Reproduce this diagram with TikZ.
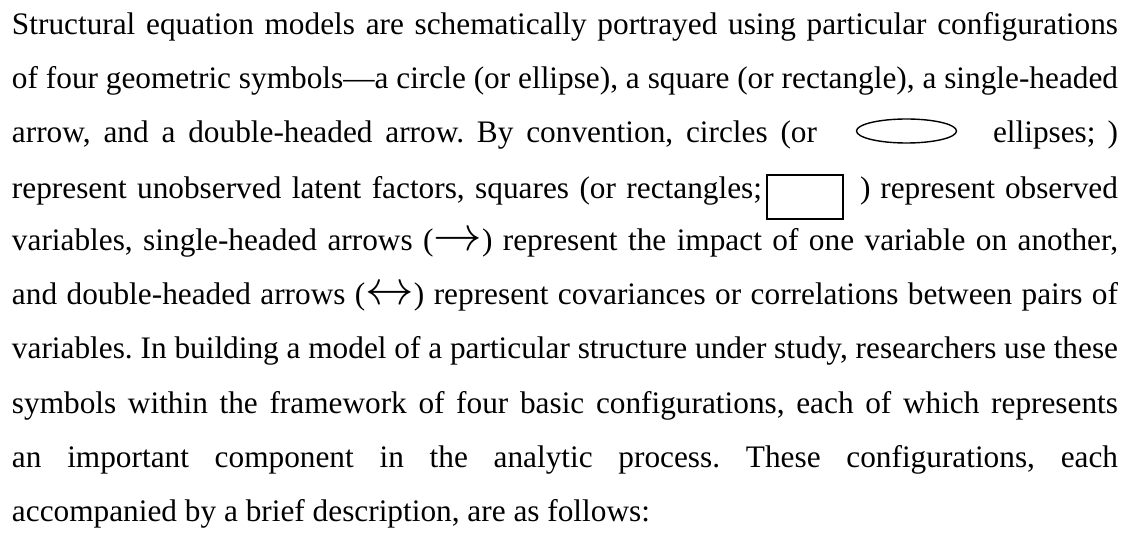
\documentclass[tikz,border=0pt]{standalone}
\usepackage{fontspec}
\setmainfont{Liberation Serif}
\usetikzlibrary{shapes.geometric}
% stretch the inter-word spaces of one line to a given width (in pt)
\newcommand\justline[2]{\makebox[#1pt][s]{#2}}
% thin text arrows, scaled up to the body size
\newcommand\rarr{\smash{\scalebox{1.95}{$\rightarrow$}}}
\newcommand\lrarr{\smash{\scalebox{1.95}{$\leftrightarrow$}}}
\frenchspacing
\begin{document}
\begin{tikzpicture}[x=1pt,y=-1pt,
  txt/.style={anchor=base west, inner sep=0pt, outer sep=0pt,
    font=\fontsize{31.3}{37}\selectfont},
  symb/.style={draw=black, line width=1.4pt, inner sep=0pt}]
\useasboundingbox (0,0) rectangle (1130,537);
\fill[white] (0,0) rectangle (1130,537);

\node[txt] (l1) at (12,35) {\justline{1106}{Structural equation models are schematically portrayed using particular configurations}};
\node[txt] (l2) at (12,89) {\justline{1106}{of four geometric symbols—a circle (or ellipse), a square (or rectangle), a single-headed}};
\node[txt] (l3a) at (12,143) {\justline{805}{arrow, and a double-headed arrow. By convention, circles (or}};
\node[symb, ellipse, minimum width=100, minimum height=24] (ell) at (906.5,131) {};
\node[txt] (l3b) at (993,143) {\justline{125}{ellipses; )}};
\node[txt] (l4a) at (12,199) {\justline{750}{represent unobserved latent factors, squares (or rectangles;}};
\node[symb, rectangle, minimum width=76, minimum height=44] (rect) at (805,197) {};
\node[txt] (l4b) at (860,199) {\justline{258}{) represent observed}};
\node[txt] (l5) at (12,251) {\justline{1106}{variables, single-headed arrows (\rarr) represent the impact of one variable on another,}};
\node[txt] (l6) at (12,305) {\justline{1106}{and double-headed arrows (\lrarr) represent covariances or correlations between pairs of}};
\node[txt] (l7) at (12,359) {\justline{1106}{variables. In building a model of a particular structure under study, researchers use these}};
\node[txt] (l8) at (12,413) {\justline{1106}{symbols within the framework of four basic configurations, each of which represents}};
\node[txt] (l9) at (12,467) {\justline{1106}{an important component in the analytic process. These configurations, each}};
\node[txt] (l10) at (12,521) {accompanied by a brief description, are as follows:};
\end{tikzpicture}
\end{document}
